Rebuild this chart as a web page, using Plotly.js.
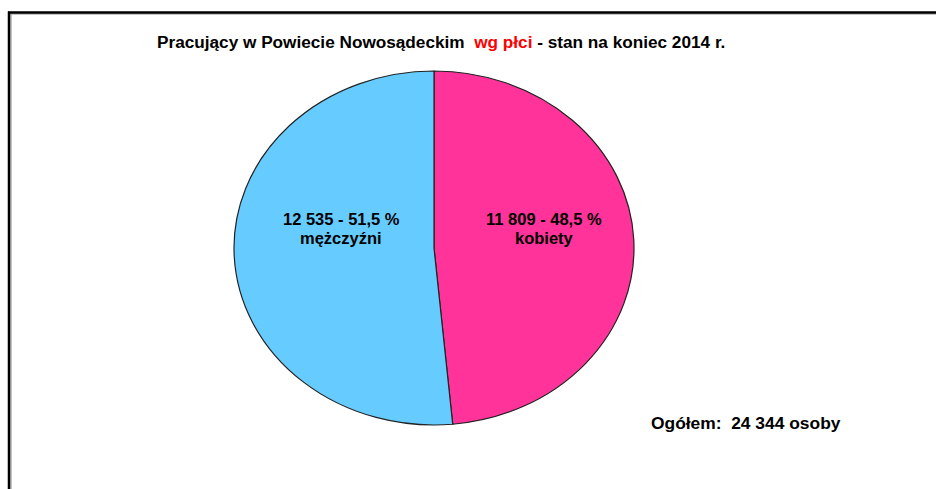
<!DOCTYPE html>
<html>
<head>
<meta charset="utf-8">
<script src="https://cdn.plot.ly/plotly-3.0.1.min.js"></script>
<style>html,body{margin:0;padding:0;background:#fff;}#chart{width:936px;height:489px;}</style>
</head>
<body>
<div id="chart"></div>
<script>
// Data
const labels = ['kobiety', 'mężczyźni'];
const values = [11809, 12535];
const colors = ['#FF3399', '#66CCFF'];
const titleParts = ['Pracujący w Powiecie Nowosądeckim', 'wg płci', '- stan na koniec 2014 r.'];
const totalLabel = 'Ogółem:';
const totalUnit = 'osoby';

const total = values.reduce((a, b) => a + b, 0);
function fmt(v) { return String(v).replace(/\B(?=(\d{3})+(?!\d))/g, ' '); }
function pct(v) { return (Math.round(v / total * 1000) / 10).toFixed(1).replace('.', ','); }
const sliceLine1 = values.map(v => fmt(v) + ' - ' + pct(v) + ' %');

const W = 936, H = 489;
const px = x => x / W, py = y => 1 - y / H;
const FONT = 'Liberation Sans, Arial, sans-serif';
const LBL = 16.5;

const trace = {
  type: 'pie',
  values: values,
  labels: labels,
  marker: { colors: colors, line: { color: '#222', width: 1.2 } },
  sort: false,
  direction: 'clockwise',
  rotation: 0,
  textinfo: 'none',
  hoverinfo: 'none',
  domain: { x: [px(234), px(634)], y: [py(425), py(71)] }
};

function ann(x, y, text, size, anchor) {
  return { xref: 'paper', yref: 'paper', x: px(x), y: py(y), xanchor: anchor || 'center', yanchor: 'middle',
    showarrow: false, text: '<b>' + text + '</b>', font: { size: size, family: FONT, color: '#000' } };
}

const layout = {
  width: W, height: H,
  margin: { l: 0, r: 0, t: 0, b: 0 },
  paper_bgcolor: '#fff',
  showlegend: false,
  font: { family: FONT, color: '#000' },
  annotations: [
    ann(155, 42, titleParts[0] + '\u00A0\u00A0<span style="color:#FF0000">' + titleParts[1] + '</span> ' + titleParts[2], 17.2, 'left'),
    ann(341, 219, sliceLine1[1], LBL),
    ann(341, 238, labels[1], LBL),
    ann(544, 219, sliceLine1[0], LBL),
    ann(544, 238, labels[0], LBL),
    ann(746, 423, totalLabel + '\u00A0\u00A0' + fmt(total) + ' ' + totalUnit, 17.4)
  ],
  shapes: [
    { type: 'line', xref: 'paper', yref: 'paper', x0: px(9), x1: 1, y0: py(14), y1: py(14), line: { color: '#b0b0b0', width: 1.5 } },
    { type: 'line', xref: 'paper', yref: 'paper', x0: px(11), x1: px(11), y0: py(13), y1: 0, line: { color: '#b0b0b0', width: 1.5 } },
    { type: 'line', xref: 'paper', yref: 'paper', x0: px(8), x1: 1, y0: py(12.5), y1: py(12.5), line: { color: '#000', width: 2.5 } },
    { type: 'line', xref: 'paper', yref: 'paper', x0: px(9), x1: px(9), y0: py(11.5), y1: 0, line: { color: '#000', width: 2.5 } }
  ]
};

Plotly.newPlot('chart', [trace], layout, { staticPlot: true, displayModeBar: false }).then(function () {
  // stretch the pie horizontally into an ellipse (reference pie is 400 x 354)
  const paths = document.querySelectorAll('.pielayer path.surface');
  let minX = Infinity, maxX = -Infinity, minY = Infinity, maxY = -Infinity;
  paths.forEach(p => { const b = p.getBBox(); minX = Math.min(minX, b.x); maxX = Math.max(maxX, b.x + b.width); minY = Math.min(minY, b.y); maxY = Math.max(maxY, b.y + b.height); });
  const cx = (minX + maxX) / 2;
  const sx = 400 / (maxY - minY);
  paths.forEach(p => {
    const t = p.getAttribute('transform') || '';
    p.setAttribute('transform', t + ' translate(' + cx + ',0) scale(' + sx + ',1) translate(' + (-cx) + ',0)');
    p.style.vectorEffect = 'non-scaling-stroke';
  });
});
</script>
</body>
</html>
